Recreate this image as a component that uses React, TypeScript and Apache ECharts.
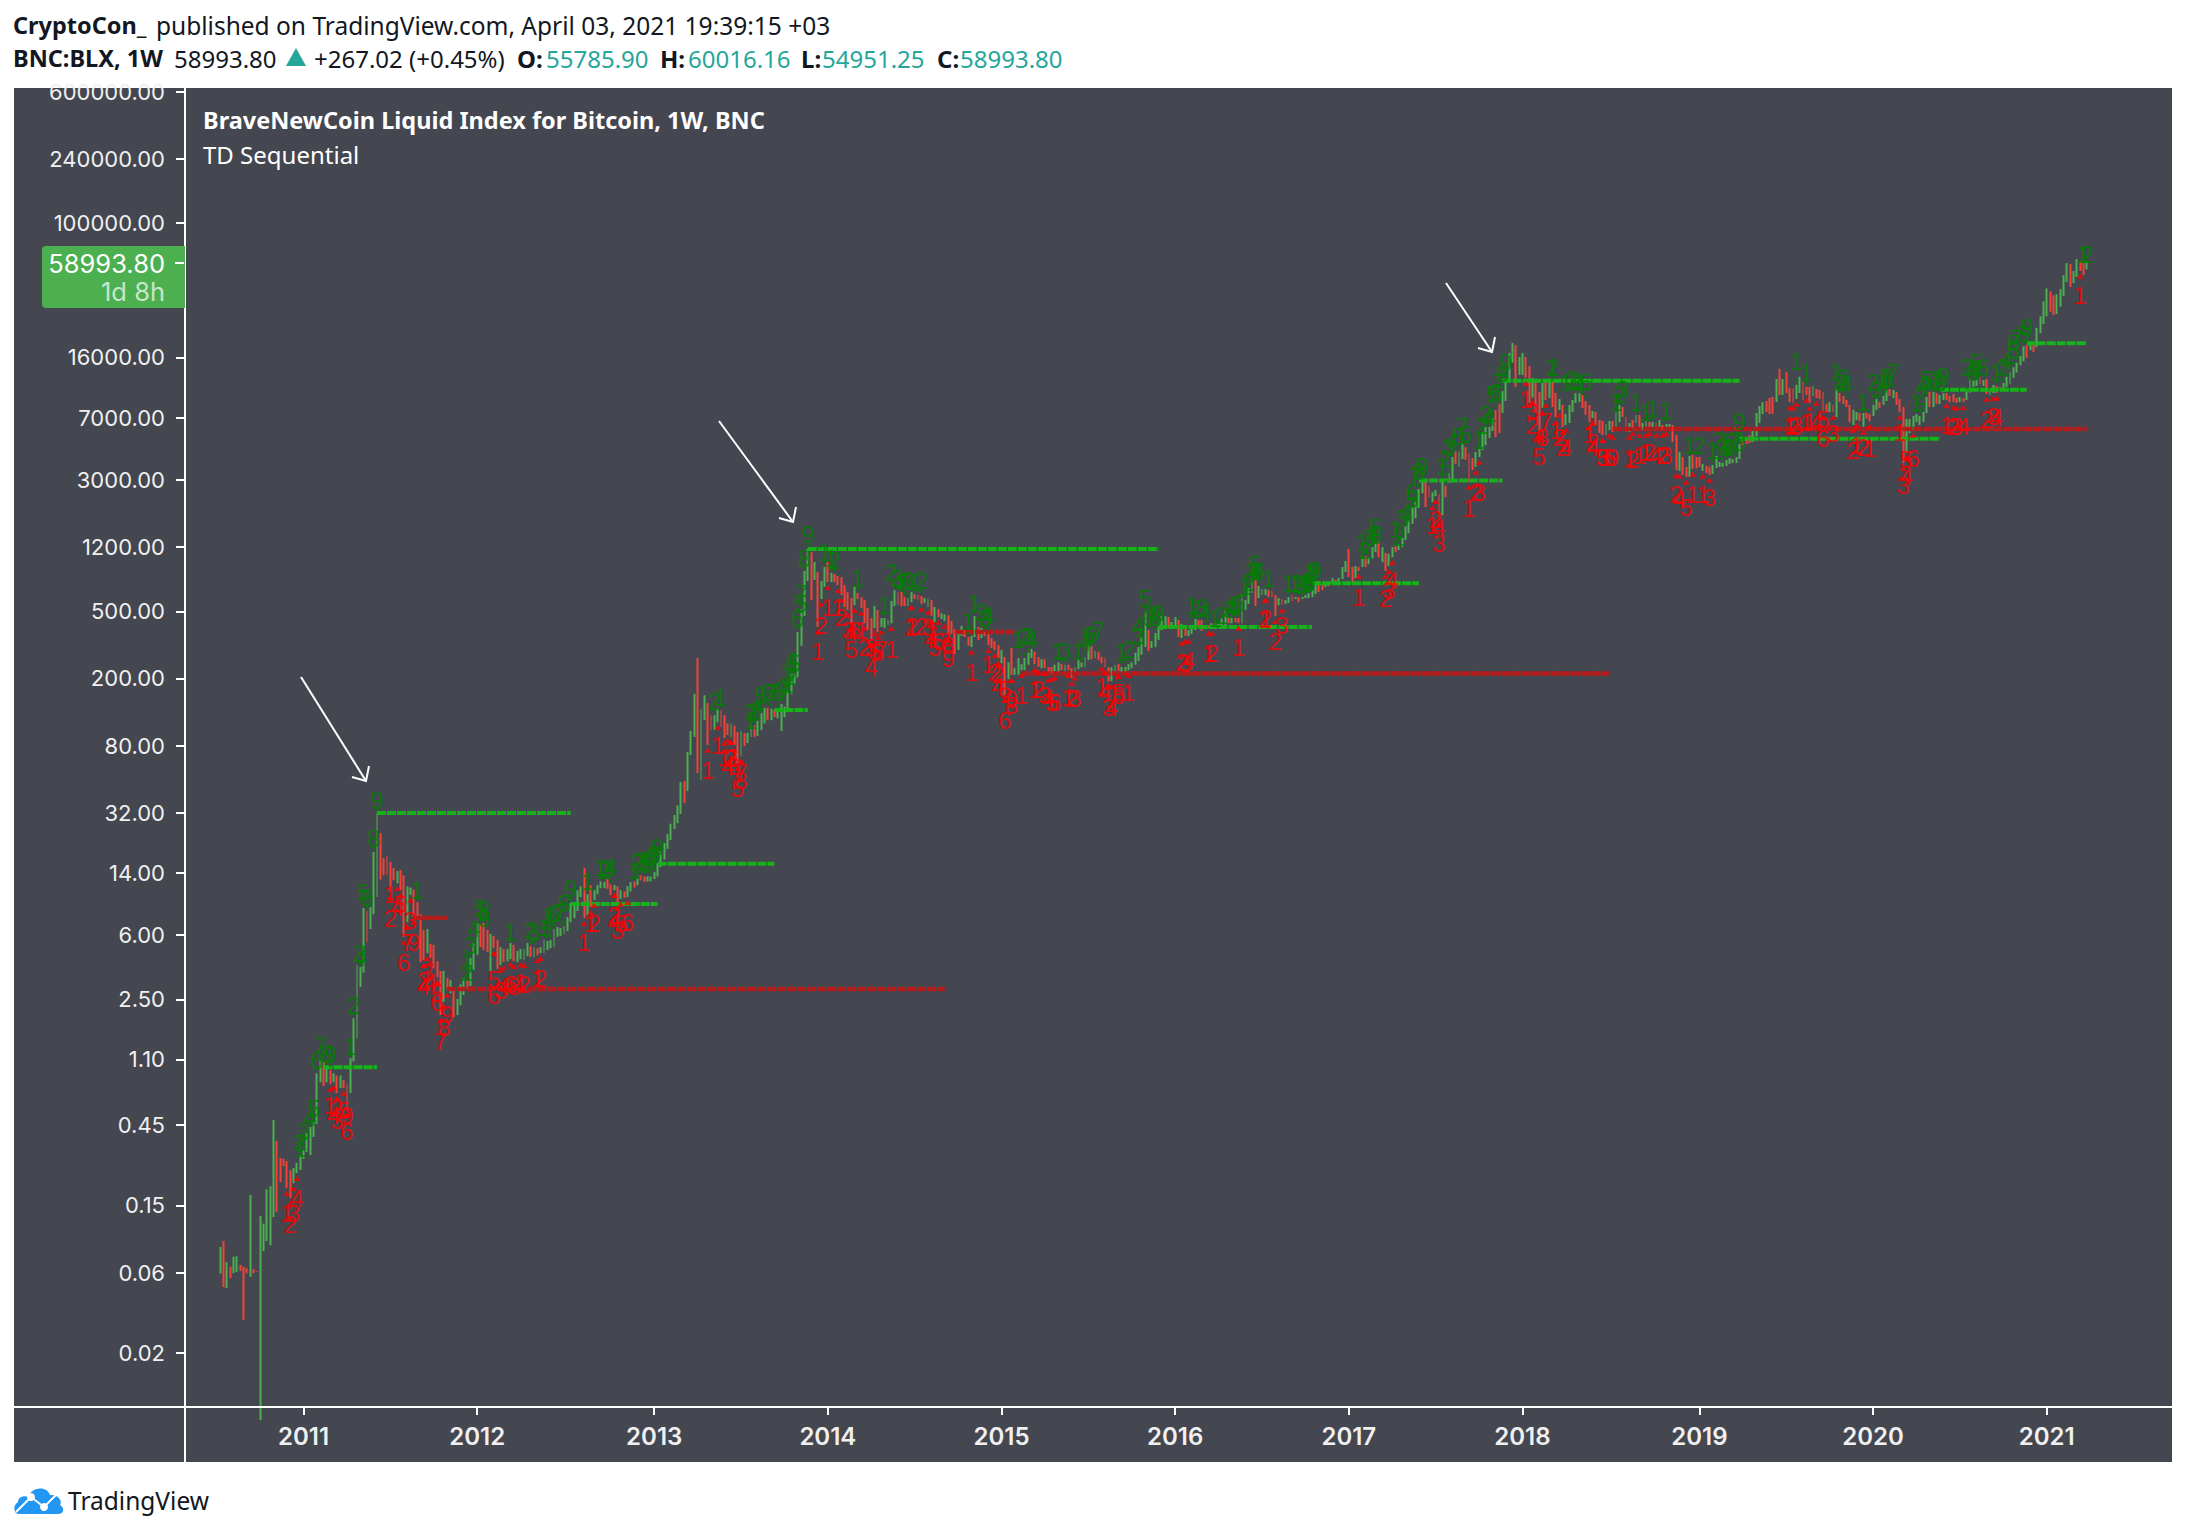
import React, { useEffect, useRef } from "react";
import * as echarts from "echarts";

const firstWeekIndex = 10;
const axisWeekCount = 595;
const yearStartWeeks = [35, 87, 140, 192, 244, 296, 348, 400, 453, 505, 557];
const priceTicks = [600000, 240000, 100000, 16000, 7000, 3000, 1200, 500, 200, 80, 32, 14, 6, 2.5, 1.1, 0.45, 0.15, 0.06, 0.02];

const weekDirections = [
  "grgrggrrrg","rrgggggrrr","rrgggggggg","grgrgrgrrg","ggggrgggrr","rrrgrrggrr","rrgrrrrgrg","rgggrgggrr",
  "rgrrgrggrg","gggrgrgggg","gggggggggr","grggggrrgr","grggrgrrgg","gggggggggr","gggrggrrgg","rrrgrrgrgg",
  "rgggrgrggg","gggggggrgr","ggrgrrrrrr","grrrrrgrgg","gggrrrggrr","rggrgrggrr","rggrrggrgr","rrrrgrgrgg",
  "ggggrrgrrr","ggrgrrgggg","grgrrrrggr","ggggggggrg","ggggrggrgr","gggrrgrggg","ggrgrrgggg","rgggrrrgrg",
  "g",
  "rgrgggggrr","grgrgggrrg","rgrgggrgrg","grgggggggg","rrggrgrggr","ggrrrggggg","grrggggrgg","rrgrrgrgrr",
  "g",
  "rgggggrrrg","rrrggrggrr","grgrggrgrg","rggrrgrrgr","rrgrrggggg","ggggrrrggg","grrrgrgrrr","ggrrrgrrrr",
  "g",
  "rgrrrrggrg","rrggrggrgr","rrgggggggr","grggrrrrgr","ggggrgrggr","rgggggggrg","rggggrrggg","grggrrg",
];

const weekHighs = [
  0.0851,0.0923,0.0692,0.065,0.0745,0.075,0.0665,0.065,0.0637,0.173,
  0.063,0.0612,0.13,0.117,0.187,0.195,0.481,0.361,0.287,0.283,
  0.275,0.243,0.25,0.268,0.298,0.32,0.402,0.438,0.474,0.912,
  1.09,1.06,0.988,0.951,0.912,0.885,0.885,0.83,0.785,1.12,
  1.93,3.99,3.89,8.7,8.35,8.8,18.7,31.9,24.2,17.2,
  17.7,16.3,15,14.4,14.6,13.6,11.7,11.5,11.2,9.44,
  8,6.44,6.53,5.33,5.26,4.21,3.68,3.68,3.34,3.25,
  2.96,2.51,3.07,3.34,3.25,4.4,5.4,7.08,6.98,7.08,
  6.44,6.1,5.93,5.62,5.1,4.97,4.97,5.4,5.26,4.83,
  4.97,4.97,5.4,5.17,5.1,5.03,5.1,5.62,5.54,5.62,
  6.53,6.71,6.62,6.8,7.7,9.3,9.05,11.1,11.7,15,
  10.5,11.9,11.1,11.9,12.5,12.4,12.9,12,11.9,11.7,
  11.1,10.9,11.7,12.4,12.5,13.2,13.6,13.4,13.4,13.4,
  14.2,16,18.9,21.1,23.9,27.5,31,35.3,48.5,49.2,
  73.2,97.5,162,264,132,159,143,121,121,132,
  130,121,108,108,105,96,97.5,94.8,94.8,105,
  105,112,125,134,134,132,130,128,141,136,
  169,213,213,377,515,867,1170,1120,979,855,
  756,915,979,844,832,809,798,715,650,599,
  697,641,607,583,523,456,537,509,456,456,
  444,575,668,650,650,607,599,650,632,624,
  616,599,591,583,530,515,486,480,473,438,
  392,377,410,387,352,357,468,404,398,377,
  372,347,333,315,295,268,249,303,230,264,
  243,264,284,299,288,268,260,260,233,234,
  241,249,243,241,241,230,233,257,249,268,
  315,312,291,288,268,264,233,233,241,243,
  234,234,243,249,284,307,352,495,387,333,
  372,404,468,468,462,432,462,444,421,398,
  387,404,450,444,444,414,414,425,425,421,
  456,502,462,456,456,456,624,583,687,777,
  766,706,677,677,668,659,624,599,591,583,
  607,
  624,607,607,607,624,641,668,725,756,725,
  745,745,787,766,787,915,993,1170,915,927,
  915,1030,1060,1045,1200,1270,1300,1200,1110,1095,
  1200,1215,1255,1360,1600,1739,2075,2220,2655,2920,
  2920,2770,2540,2620,2480,2960,2770,3300,4110,4460,
  4400,4900,4700,4340,4050,4400,4580,5780,6190,6190,
  7000,7810,8480,10100,11760,17000,19500,18900,16100,17000,
  16100,14200,12100,11440,9980,11300,11440,11760,11440,9840,
  9070,
  8370,7400,8370,8950,9840,9840,9590,8830,8370,7700,
  7600,6810,6720,6450,6720,6720,7600,8370,8130,7100,
  6540,6810,7300,7300,6540,6720,6630,6630,6540,6810,
  6360,6450,6450,6360,5550,4400,4110,3590,4170,4230,
  4110,4110,3740,3640,3590,3690,4170,3840,3790,3945,
  4050,4000,4110,4900,5320,5390,5550,5860,7500,8250,
  8700,8830,9200,9330,11900,13700,11900,13100,10500,10500,
  11000,12300,11440,10700,10700,10850,10400,10260,9980,8480,
  8700,
  8370,10400,9840,9450,8950,8370,7810,7600,7500,7500,
  7500,7400,8370,9070,8700,9450,10260,10400,10260,9980,
  9070,8130,6900,6900,7200,7400,7200,7600,9330,9980,
  9980,9840,9590,9840,9840,9450,9710,9200,9330,9200,
  9980,11900,11760,11900,12300,11760,11900,10400,11000,10850,
  10850,11300,12300,13100,14000,14900,16300,18600,18900,19700,
  19100,24000,28100,34400,41000,39400,37400,37900,40700,49200,
  58000,57200,52100,61300,59700,58000,59700,
];

const weekLows = [
  0.0593,0.0492,0.0485,0.0557,0.0595,0.0605,0.0612,0.0314,0.0593,0.0565,
  0.0595,0.0605,0.008,0.0805,0.0923,0.087,0.128,0.137,0.206,0.257,
  0.19,0.166,0.203,0.233,0.243,0.283,0.311,0.298,0.382,0.456,
  0.806,0.767,0.806,0.785,0.806,0.695,0.745,0.745,0.552,0.695,
  1.07,1.46,2.96,3.6,5.47,6.53,8,10.1,12.8,13.6,
  13.6,10.8,12.7,12.2,11.1,5.87,7.18,10.4,7.7,7.7,
  4.16,4.27,4.7,4.4,3.83,3.39,2.02,2.42,2.84,2.72,
  1.96,2.02,2.31,2.65,2.88,3,3.73,4.6,5.1,4.9,
  4.77,3.68,5.03,3.78,4,4.16,4.21,4.33,4.21,4.16,
  4.33,4.27,4.51,4.45,4.45,4.57,4.7,4.7,4.9,5.03,
  5.1,5.87,5.93,6.1,6.35,7.18,7.58,8.35,10.1,7.58,
  7.9,8.8,9.7,10.5,11.4,11.4,11.3,10.4,11.1,9.3,
  9.85,10,10.1,10.9,11.5,11.9,12.7,12.4,12.5,12.5,
  12.9,13.4,15.2,16.9,19.5,22,25.6,27.7,31.4,36.5,
  43,70.2,90,54.9,49.9,113,80.5,98.9,98.9,110,
  103,88.6,92.4,90,80.5,62.9,69.2,79.4,82.7,90,
  90,91,98.9,108,113,113,118,116,97.5,118,
  130,162,183,203,312,470,756,583,766,404,
  591,697,745,745,745,715,624,530,509,425,
  544,591,523,425,387,338,398,377,404,398,
  414,425,537,544,537,537,537,567,591,583,
  553,560,530,470,432,462,450,438,362,367,
  279,295,357,352,312,307,352,338,347,357,
  315,303,295,264,246,159,198,210,210,210,
  224,224,241,264,243,234,230,230,210,213,
  216,218,224,221,224,201,216,227,233,233,
  257,260,264,257,246,233,191,193,216,221,
  218,218,224,230,241,254,276,307,291,303,
  307,338,387,404,398,404,404,352,347,357,
  357,367,387,404,382,392,398,398,392,404,
  404,414,425,425,432,425,425,509,553,641,
  537,599,624,624,607,607,468,544,544,553,
  560,
  575,591,567,591,599,599,607,632,650,668,
  697,706,725,725,756,777,855,798,735,787,
  867,915,915,950,1030,1125,1045,979,867,927,
  1045,1125,1154,1200,1323,1455,1650,1780,2050,2510,
  2075,2370,2220,2410,1765,1860,2370,2880,3000,3740,
  3590,4000,3945,2920,3440,3590,4110,4520,4830,5320,
  5860,5390,5700,7500,8830,11440,14900,10700,12600,12600,
  12100,8600,9250,7500,5780,8030,8950,9200,8130,7100,
  7810,
  6190,6360,6540,7600,8600,8700,8030,7300,6620,7000,
  6360,5700,5550,5550,5940,5780,6190,6620,7100,5780,
  5780,6100,6540,5940,5940,5940,6100,6190,5940,6020,
  5940,6100,6020,5040,3440,3400,3220,3130,3130,3490,
  3530,3590,3400,3300,3220,3260,3530,3590,3590,3640,
  3740,3790,3790,4000,4830,4900,4970,5040,5470,6540,
  7400,7600,7400,7400,8700,9590,9590,9840,8700,8600,
  9070,9840,8950,9590,8600,9450,9200,9070,7600,7600,
  7600,
  7600,7100,8700,8480,8130,6620,6360,6810,6720,6190,
  6950,6720,7200,7810,8030,8370,8830,9450,9200,8370,
  7600,3790,4340,5700,5940,6630,6360,6630,7500,8130,
  8130,8480,8480,8950,8950,8700,8700,8600,8700,8700,
  8950,9840,10700,10850,11100,10850,9710,9590,9840,9840,
  10100,10260,10700,11100,12100,13000,14400,15200,15900,17700,
  17200,18400,22300,25300,28000,29900,28500,28900,31900,37000,
  44800,41900,44200,48000,52100,49200,53300,
];

const greenDigits = [
  [57,38,9],[56,22.6,8],[53,10.7,5],[54,10,6],[52,4.7,3],[52,4.4,4],[50,2.3,2],[49,1.31,1],[40,1.34,7],[42,1.2,8],[43,1.17,9],[39,1.09,6],[38,0.56,5],[37,0.5,4],[35,0.41,3],[34,0.355,2],[34,0.325,1],
  [88,8.7,5],[89,8.4,8],[89,7.5,9],[86,6.6,4],[85,5.25,3],[84,4.16,1],[84,3.6,2],[69,11.1,1],[97,6.26,1],[103,6.44,2],[104,6.2,3],[107,6.7,1],[108,6.9,4],[109,7.7,5],[110,8.1,6],[112,8.2,7],[113,9.3,8],[115,11.4,9],
  [120,12.5,1],[124,15.2,1],[125,14.6,2],[126,15,3],[127,15.2,4],[134,14.6,1],[135,16.2,2],[136,16.7,3],[137,16.7,4],[138,16.3,5],[139,17.4,6],[140,17.4,7],[140,18.2,8],[141,20,9],
  [158,145,2],[160,154,1],[169,113,1],[169,125,3],[170,127,2],[171,139,4],[172,159,5],[174,164,6],[175,164,7],[177,164,8],[178,171,9],[180,183,1],[181,204,2],[180,210,3],[181,257,4],[182,246,5],[183,456,6],[184,641,7],[184,559,5],[185,1030,8],[186,1420,9],
  [191,1110,1],[193,1030,1],[194,1007,2],[201,787,1],[209,544,1],[211,844,2],[213,787,3],[213,745,4],[215,745,5],[216,766,6],[218,745,1],[220,766,2],[236,559,1],[234,432,1],[238,494,2],[239,456,3],[240,473,4],
  [249,338,1],[251,352,2],[252,352,3],[253,338,4],[261,288,1],[263,288,3],[267,288,1],[269,325,4],[270,352,5],[271,362,6],[273,387,7],[280,284,1],[282,295,2],[285,352,3],[285,404,4],[287,599,5],[288,456,6],[289,473,7],[290,462,8],[291,488,9],
  [302,509,2],[301,544,1],[304,523,3],[305,495,4],[308,456,1],[310,473,2],[312,509,3],[313,523,4],[314,544,5],[315,559,6],[317,697,1],[318,745,2],[319,844,3],[320,878,4],[320,943,5],[321,855,6],[324,787,1],[330,735,1],
  [332,735,1],[333,735,2],[334,715,3],[335,735,4],[336,735,5],[336,766,6],[337,820,7],[337,855,8],[338,878,9],[352,1283,1],[353,1154,2],[354,1360,3],[355,1416,4],[356,1564,5],[356,1416,6],
  [362,1517,1],[363,1360,2],[364,1765,3],[365,1890,4],[367,2285,5],[367,2540,6],[368,3130,7],[369,3370,8],[370,3590,9],[376,3590,1],[377,4050,2],[378,4700,3],[379,5180,4],[381,5400,5],[383,5550,6],[382,6190,7],
  [387,5180,1],[388,6360,2],[389,7300,3],[390,7000,4],[391,9590,5],[392,9850,6],[393,11440,7],[394,12900,8],[395,14900,9],[409,13900,1],[409,13900,2],[413,11400,1],[415,11760,2],[416,11400,3],[417,10900,4],[419,11400,5],
  [428,8700,1],[429,9590,2],[430,10260,3],[434,8600,1],[437,7500,1],[439,8000,1],[443,7800,1],[450,4840,1],[453,4840,2],[457,4520,1],[459,5180,2],[460,4700,3],[461,4700,4],[462,5000,5],[462,4700,6],[464,5180,7],[465,5000,8],[465,6630,9],
  [482,15100,1],[485,13000,1],[494,13000,1],[495,11300,2],[496,12100,3],[497,11000,4],[502,8700,1],[505,11300,2],[506,10260,3],[508,11000,4],[509,11760,5],[509,12300,6],[511,13000,7],
  [518,8600,1],[519,9330,2],[520,11000,4],[521,11760,5],[523,11300,6],[524,11760,7],[525,11300,8],[526,12300,9],[533,14000,2],[535,13100,3],[535,13500,4],[536,14900,5],[538,14000,6],
  [542,13000,1],[544,14000,2],[545,15300,4],[547,17700,5],[547,19500,6],[548,20700,7],[550,22300,8],[551,24000,9],[568,65500,1],[569,64800,2],
];

const redDigits = [
  [31,0.115,2],[32,0.134,3],[30,0.134,1],[33,0.166,4],[48,0.41,6],[43,0.59,1],[45,0.565,2],[45,0.48,3],[44,0.515,4],[47,0.55,5],[48,0.515,9],
  [61,10.5,1],[61,7.5,2],[67,7.38,3],[63,8.8,4],[64,9.1,5],[65,4.16,6],[66,5.4,7],[68,5.4,9],[72,3.6,3],[71,3.25,2],[71,2.96,4],[73,3.15,4],[75,2.72,5],[75,2.4,6],[78,2.02,9],[77,1.7,8],[76,1.41,7],
  [92,3.3,5],[92,2.65,6],[94,2.84,3],[95,2.96,4],[97,3.07,6],[98,2.96,8],[100,3.15,1],[101,3.07,2],[105,3.34,1],[106,3.34,2],[119,5.4,1],[121,7.08,1],[122,7.08,2],[128,7.9,2],[128,7.18,4],[129,6.44,3],[130,7.08,5],[132,7.18,6],
  [156,57.2,1],[159,80.5,1],[161,67.8,1],[163,66.7,2],[163,67.8,3],[162,60,4],[164,60,6],[166,55.6,7],[166,49.9,8],[165,44.7,5],
  [189,288,1],[190,414,2],[192,523,1],[195,523,1],[196,462,2],[198,387,3],[199,377,4],[200,387,6],[202,387,1],[199,295,5],[203,303,2],[205,303,3],[206,288,5],[207,284,6],[208,295,7],[211,295,1],[205,233,4],
  [217,398,1],[217,404,2],[220,404,2],[222,398,3],[223,377,1],[223,338,4],[224,307,5],[225,330,6],[227,330,7],[228,315,8],[228,264,9],[235,218,1],[240,241,1],[242,216,2],[243,210,2],[243,179,4],[245,171,5],[245,113,6],[247,149,9],[247,139,8],
  [250,159,1],[254,171,1],[255,171,2],[257,159,3],[258,153,4],[259,143,5],[260,143,6],[264,155,1],[265,153,2],[266,153,3],[274,179,1],[275,164,4],[276,134,3],[277,134,4],[279,164,5],[279,159,6],[282,164,1],
  [298,249,2],[299,246,3],[300,257,4],[306,280,1],[307,280,2],[315,303,1],[323,444,1],[323,456,2],[326,330,2],[328,414,3],[351,607,1],[359,599,2],[360,668,3],[361,766,4],[374,1739,2],[373,1620,1],[375,1570,4],[375,1255,3],[384,2030,1],[386,2540,2],[387,2540,3],
  [401,8950,1],[403,6360,2],[403,7600,3],[405,5390,4],[405,4150,5],[406,5390,8],[407,6630,7],[410,5940,1],[411,5390,2],[412,4700,2],[413,4700,4],[420,5550,1],[421,5040,2],[421,4700,4],[424,4100,3],[424,4100,5],[426,4100,6],[427,4100,9],
  [432,4050,1],[433,3945,2],[435,4200,1],[437,4350,1],[438,4350,2],[440,4200,4],[442,4200,2],[443,4200,3],[446,2450,2],[447,2285,4],[449,2075,5],[451,2450,1],[454,2450,1],[456,2350,3],
  [480,6360,1],[481,6190,2],[482,6360,3],[485,6540,1],[486,6630,1],[488,6540,4],[490,6810,5],[490,5320,6],[493,5700,3],[499,4520,2],[500,4840,1],[502,4700,2],[504,4640,1],[513,5780,1],[515,3945,5],[517,4050,6],[515,3130,4],[514,2770,3],
  [527,6360,1],[529,6190,2],[530,6190,3],[532,6190,4],[539,6810,2],[541,7100,3],[542,7000,4],[567,37400,1],
];

const greenLevels = [
  [41,57,0.99],[57,115,31.8],[115,141,9.2],[141,176,15.9],[176,186,130],[186,291,1170],[291,337,404],
  [337,369,733],[369,394,2980],[394,465,11650],[465,525,5280],[525,551,10300],[551,569,19400],
];
const redLevels = [[68,78,7.6],[78,227,2.88],[230,248,377],[250,426,214],[427,569,6020]];

const weekNames: string[] = [];
{
  const start = Date.UTC(2010, 4, 3);
  for (let i = 0; i < axisWeekCount; i++) {
    weekNames.push(new Date(start + i * 7 * 86400000).toISOString().slice(0, 10));
  }
}

const directionText = weekDirections.join("");

const UP = "#4caf50";
const DOWN = "#f44336";
const INK = "#131722";
const TEAL = "#26a69a";
const HEAD = "Noto Sans";
const AXIS = "Inter";

function txt(x: number, y: number, text: string, fill: string, size: number, weight: string | number = "normal", align = "left", family = HEAD, z = 100) {
  return { type: "text", x, y, z, silent: true, style: { text, fill, fontSize: size, fontWeight: weight, fontFamily: family, align, verticalAlign: "middle" } };
}
function seg(x1: number, y1: number, x2: number, y2: number, w = 2, z = 100) {
  return { type: "line", z, silent: true, shape: { x1, y1, x2, y2 }, style: { stroke: "#ffffff", lineWidth: w } };
}
function arrow(x1: number, y1: number, x2: number, y2: number) {
  return [
    seg(x1, y1, x2, y2),
    { type: "polyline", z: 100, silent: true, shape: { points: [[x2 - 14, y2 - 4], [x2, y2], [x2 + 3, y2 - 15]] }, style: { stroke: "#ffffff", lineWidth: 2, fill: "none" } },
  ];
}

export default function App() {
  const ref = useRef<HTMLDivElement>(null);
  useEffect(() => {
    document.body.style.margin = "0";
    echarts.graphic.registerShape(
      "tvcloud",
      echarts.graphic.extendPath("M6 30 C1 30 -1 22 5 18 C5 13 11 11 15 13 C18 3 34 1 37 11 C45 10 50 17 47 21 C52 24 51 30 45 30 Z", {}) as any
    );
    const chart = echarts.init(ref.current!, undefined, { renderer: "svg" });
    const bars: any[] = [];
    for (let i = 0; i < firstWeekIndex; i++) bars.push(["-", "-", "-", "-"]);
    weekHighs.forEach((h, i) => {
      const l = weekLows[i];
      const up = directionText[i] !== "r";
      bars.push([up ? l : h, up ? h : l, l, h]);
    });
    const lowAt = (n: number) => weekLows[Math.min(Math.max(n - firstWeekIndex, 0), weekLows.length - 1)];
    const highAt = (n: number) => weekHighs[Math.min(Math.max(n - firstWeekIndex, 0), weekHighs.length - 1)];
    const digitSeries = (name: string, list: number[][], color: string) => ({
      name,
      type: "scatter",
      z: 6,
      symbol: "circle",
      symbolSize: 1,
      itemStyle: { color: "rgba(0,0,0,0)" },
      silent: true,
      data: list,
      label: {
        show: true,
        position: "inside",
        color,
        fontSize: 24,
        fontFamily: "Liberation Sans",
        formatter: (p: any) => String(p.value[2]),
      },
    });
    const levelSeries = (list: number[][], color: string, width: number) =>
      list.map((l) => ({
        type: "line",
        z: 4,
        symbol: "none",
        silent: true,
        lineStyle: { color, width, type: [9, 1] },
        data: [[l[0], l[2]], [l[1], l[2]]],
      }));
    chart.setOption({
      animation: false,
      backgroundColor: "#ffffff",
      grid: { left: 185, right: 16, top: 88, bottom: 129, containLabel: false },
      xAxis: {
        type: "category",
        data: weekNames,
        boundaryGap: true,
        axisLine: { show: false },
        axisTick: {
          show: true,
          alignWithLabel: true,
          length: 8,
          interval: (i: number) => yearStartWeeks.includes(i),
          lineStyle: { color: "#ffffff", width: 2 },
        },
        axisLabel: {
          show: true,
          interval: (i: number) => yearStartWeeks.includes(i),
          formatter: (v: string) => String(Number(v.slice(0, 4))),
          color: "#f0f0f0",
          fontFamily: AXIS,
          fontSize: 24,
          fontWeight: 600,
          margin: 17,
        },
        splitLine: { show: false },
      },
      yAxis: {
        type: "log",
        logBase: 10,
        min: 0.00957,
        max: 633400,
        axisLine: { show: false },
        axisTick: { show: true, length: 9, customValues: priceTicks, lineStyle: { color: "#ffffff", width: 2 } },
        axisLabel: {
          show: true,
          customValues: priceTicks,
          formatter: (v: any) => Number(v).toFixed(2),
          color: "#f0f0f0",
          fontFamily: AXIS,
          fontSize: 22,
          margin: 20,
        },
        splitLine: { show: false },
        minorTick: { show: false },
        minorSplitLine: { show: false },
      },
      series: [
        {
          type: "candlestick",
          z: 3,
          large: false,
          barWidth: 2.4,
          silent: true,
          itemStyle: { color: UP, color0: DOWN, borderColor: UP, borderColor0: DOWN, borderWidth: 0 },
          data: bars,
        },
        ...levelSeries(greenLevels, "#17b21a", 4),
        ...levelSeries(redLevels, "#b71c1c", 4.4),
        {
          type: "scatter",
          z: 5,
          symbol: "triangle",
          symbolSize: [7, 5],
          silent: true,
          itemStyle: { color: "#ff0000" },
          data: redDigits.map((d) => [d[0], lowAt(d[0]) * 0.93]),
        },
        {
          type: "scatter",
          z: 5,
          symbol: "triangle",
          symbolRotate: 180,
          symbolSize: [4, 3],
          silent: true,
          itemStyle: { color: "#008000" },
          data: greenDigits.map((d) => [d[0], highAt(d[0]) * 1.05]),
        },
        digitSeries("TD up", greenDigits, "#008000"),
        digitSeries("TD down", redDigits, "#ff0000"),
      ],
      graphic: [
        { type: "rect", z: -10, silent: true, shape: { x: 14, y: 88, width: 2158, height: 1374 }, style: { fill: "#444650" } },
        seg(185, 88, 185, 1462, 2, 50),
        seg(14, 1407, 2172, 1407, 2, 50),
        { type: "rect", z: 60, silent: true, shape: { x: 42, y: 246, width: 143, height: 62, r: [4, 0, 0, 4] }, style: { fill: "#4caf50" } },
        seg(175, 263, 184, 263, 2, 61),
        txt(165, 263, "58993.80", "#ffffff", 25.5, "normal", "right", AXIS, 61),
        txt(165, 291, "1d 8h", "#c8e6c9", 25.5, "normal", "right", AXIS, 61),
        txt(13, 25, "CryptoCon_", INK, 23.5, "bold"),
        txt(156, 25, "published on TradingView.com, April 03, 2021 19:39:15 +03", INK, 24.5),
        txt(13, 58, "BNC:BLX, 1W", INK, 23.5, "bold"),
        txt(174, 58, "58993.80", INK, 24),
        { type: "polygon", z: 100, silent: true, shape: { points: [[286, 66], [306, 66], [296, 48]] }, style: { fill: TEAL } },
        txt(314, 58, "+267.02 (+0.45%)", INK, 24),
        txt(517, 58, "O:", INK, 24, "bold"),
        txt(546, 58, "55785.90", TEAL, 24),
        txt(660, 58, "H:", INK, 24, "bold"),
        txt(688, 58, "60016.16", TEAL, 24),
        txt(801, 58, "L:", INK, 24, "bold"),
        txt(822, 58, "54951.25", TEAL, 24),
        txt(937, 58, "C:", INK, 24, "bold"),
        txt(960, 58, "58993.80", TEAL, 24),
        txt(203, 120, "BraveNewCoin Liquid Index for Bitcoin, 1W, BNC", "#ffffff", 23.5, "bold"),
        txt(203, 154, "TD Sequential", "#ffffff", 24),
        ...arrow(301, 677, 366, 781),
        ...arrow(719, 421, 793, 522),
        ...arrow(1446, 283, 1492, 352),
        { type: "tvcloud", x: 13, y: 1484, z: 100, silent: true, style: { fill: "#2196f3" } },
        { type: "polyline", z: 101, silent: true, shape: { points: [[16, 1512], [31, 1497], [44, 1507], [60, 1491]] }, style: { stroke: "#ffffff", lineWidth: 2, fill: "none" } },
        { type: "circle", z: 102, silent: true, shape: { cx: 31, cy: 1497, r: 4 }, style: { fill: "#ffffff" } },
        { type: "circle", z: 102, silent: true, shape: { cx: 44, cy: 1507, r: 4 }, style: { fill: "#ffffff" } },
        txt(68, 1500, "TradingView", INK, 24.5),
      ],
    });
    return () => chart.dispose();
  }, []);
  return <div ref={ref} style={{ position: "fixed", left: 0, top: 0, width: 2188, height: 1536 }} />;
}
